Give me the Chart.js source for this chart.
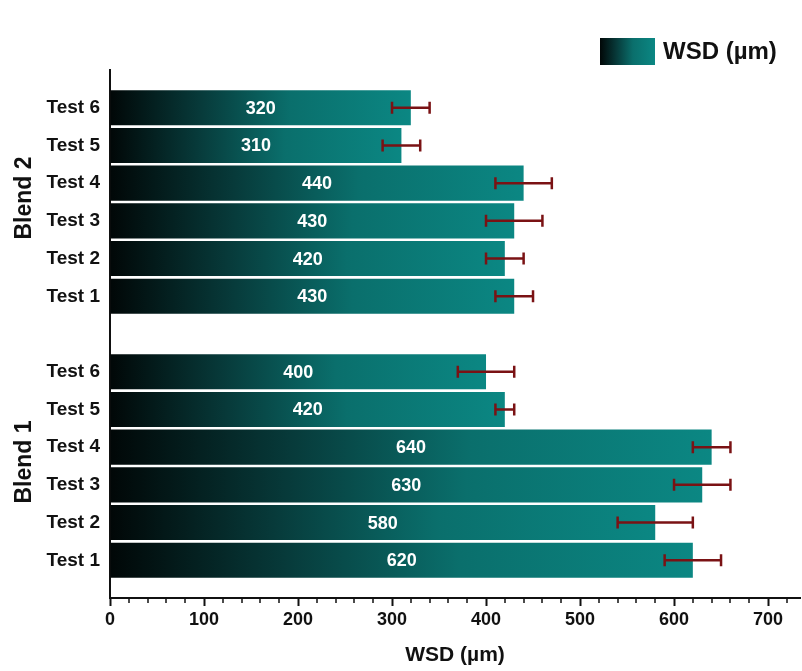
<!DOCTYPE html>
<html>
<head>
<meta charset="utf-8">
<script src="https://cdn.jsdelivr.net/npm/chart.js@4"></script>
<style>
  html, body { margin: 0; padding: 0; background: #fff; }
  #wrap { width: 802px; height: 671px; }
</style>
</head>
<body>
<div id="wrap"><canvas id="wsdChart"></canvas></div>
<script>
// data (Test 1 .. Test 6)
const tests = ['Test 1', 'Test 2', 'Test 3', 'Test 4', 'Test 5', 'Test 6'];
const groups = ['Blend 2', 'Blend 1'];
const blend1 = [620, 580, 630, 640, 420, 400];
const blend1Err = [30, 40, 30, 20, 10, 30];
const blend2 = [430, 420, 430, 440, 310, 320];
const blend2Err = [20, 20, 30, 30, 20, 20];
const xMax = 734;
const xMajorStep = 100;
const xMinorStep = 20;

const FONT = 'Liberation Sans, Arial, sans-serif';
const errColor = '#7a1214';

// rows top to bottom: spacer, Blend 2 (Test 6..1), spacer, Blend 1 (Test 6..1), spacer
const rev = a => a.slice().reverse();
const labels = ['', ...rev(tests), '', ...rev(tests), ''];
const values = [null, ...rev(blend2), null, ...rev(blend1), null];
const errors = [null, ...rev(blend2Err), null, ...rev(blend1Err), null];
const groupRows = [[1, 6], [8, 13]];

function barGradient(ctx2d, x0, x1) {
    const g = ctx2d.createLinearGradient(x0, 0, x1, 0);
    g.addColorStop(0, '#010707');
    g.addColorStop(0.3, '#073a3a');
    g.addColorStop(0.6, '#0a6f6c');
    g.addColorStop(1, '#0b8783');
    return g;
}

// error bars + value labels on the bars
const barExtras = {
    id: 'barExtras',
    afterDatasetsDraw(chart) {
        const ctx = chart.ctx;
        const xs = chart.scales.x;
        const meta = chart.getDatasetMeta(0);
        meta.data.forEach((bar, i) => {
            const v = values[i];
            if (v == null) return;
            // value label
            ctx.save();
            ctx.fillStyle = '#ffffff';
            ctx.font = 'bold 18px ' + FONT;
            ctx.textAlign = 'center';
            ctx.textBaseline = 'middle';
            ctx.fillText(String(v), (bar.base + bar.x) / 2, bar.y + 1);
            // error bar
            const e = errors[i];
            const xl = xs.getPixelForValue(v - e);
            const xr = xs.getPixelForValue(v + e);
            ctx.strokeStyle = errColor;
            ctx.lineWidth = 2.5;
            ctx.beginPath();
            ctx.moveTo(xl, bar.y); ctx.lineTo(xr, bar.y);
            ctx.moveTo(xl, bar.y - 6); ctx.lineTo(xl, bar.y + 6);
            ctx.moveTo(xr, bar.y - 6); ctx.lineTo(xr, bar.y + 6);
            ctx.stroke();
            ctx.restore();
        });
    }
};

// minor ticks, group names and legend
const decorations = {
    id: 'decorations',
    afterDraw(chart) {
        const ctx = chart.ctx;
        const xs = chart.scales.x;
        const ys = chart.scales.y;
        ctx.save();
        // minor ticks on the x axis
        ctx.strokeStyle = '#111';
        ctx.lineWidth = 1.5;
        ctx.beginPath();
        for (let v = xMinorStep; v <= xMax; v += xMinorStep) {
            if (v % xMajorStep === 0) continue;
            const px = Math.round(xs.getPixelForValue(v));
            ctx.moveTo(px, xs.top);
            ctx.lineTo(px, xs.top + 5);
        }
        ctx.stroke();

        ctx.fillStyle = '#111';
        ctx.font = 'bold 23px ' + FONT;
        ctx.textAlign = 'center';
        ctx.textBaseline = 'middle';
        groups.forEach((name, g) => {
            const [a, b] = groupRows[g];
            const yc = (ys.getPixelForValue(a) + ys.getPixelForValue(b)) / 2;
            ctx.save();
            ctx.translate(25, yc - 4);
            ctx.rotate(-Math.PI / 2);
            ctx.fillText(name, 0, 0);
            ctx.restore();
        });
        // legend box
        const lx = 600, ly = 38, lw = 55, lh = 27;
        ctx.fillStyle = barGradient(ctx, lx, lx + lw);
        ctx.fillRect(lx, ly, lw, lh);
        ctx.fillStyle = '#111';
        ctx.font = 'bold 24px ' + FONT;
        ctx.textAlign = 'left';
        ctx.fillText('WSD (µm)', lx + lw + 8, ly + lh / 2 + 1);
        ctx.restore();
    }
};

new Chart(document.getElementById('wsdChart'), {
    type: 'bar',
    data: {
        labels: labels,
        datasets: [{
            label: 'WSD (µm)',
            data: values,
            backgroundColor(context) {
                const chart = context.chart;
                if (!chart.chartArea || context.raw == null) return '#0b8783';
                const xs = chart.scales.x;
                return barGradient(chart.ctx, xs.getPixelForValue(0), xs.getPixelForValue(context.raw));
            },
            borderWidth: 0,
            categoryPercentage: 1,
            barPercentage: 0.93
        }]
    },
    options: {
        indexAxis: 'y',
        responsive: true,
        maintainAspectRatio: false,
        animation: false,
        layout: { padding: { top: 70, right: 2, left: 0, bottom: 0 } },
        plugins: {
            legend: { display: false },
            tooltip: { enabled: false }
        },
        scales: {
            x: {
                min: 0,
                max: xMax,
                afterFit(scale) { scale.height = 73; },
                border: { color: '#111', width: 2 },
                grid: {
                    drawOnChartArea: false,
                    tickLength: 8,
                    tickColor: '#111',
                    tickWidth: 2
                },
                ticks: {
                    stepSize: xMajorStep,
                    includeBounds: false,
                    autoSkip: false,
                    maxRotation: 0,
                    padding: 3,
                    color: '#111',
                    font: { family: FONT, size: 18, weight: 'bold' }
                },
                title: {
                    display: true,
                    text: 'WSD (µm)',
                    color: '#111',
                    font: { family: FONT, size: 21, weight: 'bold' },
                    padding: { top: 4, bottom: 3 }
                }
            },
            y: {
                offset: false,
                afterFit(scale) { scale.width = 110; },
                border: { color: '#111', width: 2 },
                grid: { display: false, drawTicks: false },
                ticks: {
                    autoSkip: false,
                    padding: 10,
                    color: '#111',
                    font: { family: FONT, size: 19, weight: 'bold' }
                }
            }
        }
    },
    plugins: [barExtras, decorations]
});
</script>
</body>
</html>
